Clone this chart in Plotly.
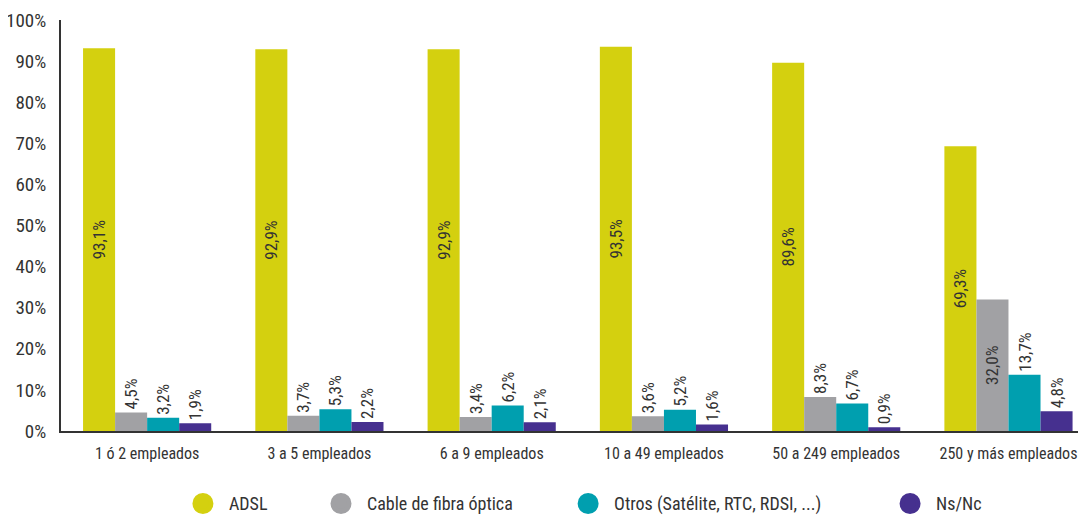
import plotly.graph_objects as go

categories = ["1 ó 2 empleados", "3 a 5 empleados", "6 a 9 empleados",
              "10 a 49 empleados", "50 a 249 empleados", "250 y más empleados"]
series_names = ["ADSL", "Cable de fibra óptica", "Otros (Satélite, RTC, RDSI, ...)", "Ns/Nc"]
adsl = [93.1, 92.9, 92.9, 93.5, 89.6, 69.3]
cable = [4.5, 3.7, 3.4, 3.6, 8.3, 32.0]
otros = [3.2, 5.3, 6.2, 5.2, 6.7, 13.7]
nsnc = [1.9, 2.2, 2.1, 1.6, 0.9, 4.8]
y_ticks = [0, 10, 20, 30, 40, 50, 60, 70, 80, 90, 100]
y_tick_labels = [f"{v}%" for v in y_ticks]

colors = ["#D4D00F", "#A1A1A4", "#009FAF", "#46308F"]
FONT = "Roboto Condensed, DejaVu Sans Condensed, sans-serif"
TXT = "#333333"

def fmt(v):
    return f"{v:.1f}".replace(".", ",") + "%"

fig = go.Figure()
for name, vals, col in zip(series_names, [adsl, cable, otros, nsnc], colors):
    pos = ["inside" if v > 25 else "outside" for v in vals]
    fig.add_trace(go.Bar(
        x=categories, y=vals, name=name, marker_color=col, marker_line_width=0,
        text=[fmt(v) for v in vals], textposition=pos, textangle=-90,
        insidetextanchor="middle", cliponaxis=False, constraintext="none",
        textfont=dict(family=FONT, size=17, color=TXT),
        showlegend=False,
    ))

legend_ids = ["legend", "legend2", "legend3", "legend4"]
for name, col, lid in zip(series_names, colors, legend_ids):
    fig.add_trace(go.Scatter(
        x=[None], y=[None], mode="markers", name=name, legend=lid,
        marker=dict(color=col, size=16, line=dict(color=col, width=5)),
        showlegend=True,
    ))

leg_x = [0.1131, 0.2478, 0.4889, 0.8030]
leg_common = dict(orientation="h", yanchor="middle", yref="container", y=0.026,
                  xanchor="left", font=dict(family=FONT, size=18, color=TXT), itemwidth=42,
                  bgcolor="rgba(0,0,0,0)")
legends = {}
for lid, lx in zip(legend_ids, leg_x):
    legends[lid] = dict(x=lx, **leg_common)

fig.update_layout(
    width=1078, height=509,
    margin=dict(l=53, r=0, t=12, b=86),
    paper_bgcolor="white", plot_bgcolor="white",
    barmode="group", bargap=0.256, bargroupgap=0,
    font=dict(family=FONT, color=TXT),
    xaxis=dict(range=[-0.5, 5.45], showgrid=False, showline=True, linecolor="#333333",
               linewidth=2, ticks="", tickfont=dict(family=FONT, size=16, color=TXT),
               ticklabelstandoff=7, automargin=False),
    yaxis=dict(range=[0, 100], tickvals=y_ticks, ticktext=y_tick_labels, showgrid=False,
               showline=True, linecolor="#333333", linewidth=2, ticks="", zeroline=False,
               tickfont=dict(family=FONT, size=19, color=TXT), ticklabelstandoff=9,
               automargin=False),
    **legends,
)

fig.write_html("out.html")
